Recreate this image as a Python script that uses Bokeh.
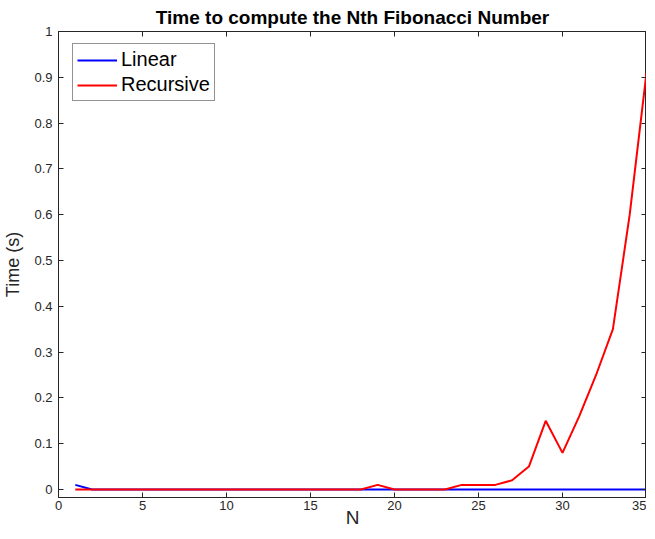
from bokeh.plotting import figure
from bokeh.models import LinearAxis, Range1d, CustomJSTickFormatter, FixedTicker, Legend, LegendItem
from bokeh.embed import file_html
from bokeh.resources import INLINE

N = [1, 2, 3, 4, 5, 6, 7, 8, 9, 10, 11, 12, 13, 14, 15, 16, 17, 18,
     19, 20, 21, 22, 23, 24, 25, 26, 27, 28, 29, 30, 31, 32, 33, 34, 35]
linear_time = [0.01, 0, 0, 0, 0, 0, 0, 0, 0, 0, 0, 0, 0, 0, 0, 0, 0, 0,
               0, 0, 0, 0, 0, 0, 0, 0, 0, 0, 0, 0, 0, 0, 0, 0, 0]
recursive_time = [0, 0, 0, 0, 0, 0, 0, 0, 0, 0, 0, 0, 0, 0, 0, 0, 0, 0,
                  0.01, 0, 0, 0, 0, 0.01, 0.01, 0.01, 0.02, 0.05, 0.15, 0.08,
                  0.16, 0.25, 0.35, 0.60, 0.91]
x_ticks = [0, 5, 10, 15, 20, 25, 30, 35]
y_ticks = [0, 0.1, 0.2, 0.3, 0.4, 0.5, 0.6, 0.7, 0.8, 0.9, 1]

FONT = "Liberation Sans"
AX = "#262626"

p = figure(frame_width=588, frame_height=466, output_backend="svg", toolbar_location=None,
           x_range=Range1d(0, 35), y_range=Range1d(-0.0175, 1),
           title="Time to compute the Nth Fibonacci Number",
           min_border_left=0, min_border_right=0, min_border_top=0, min_border_bottom=0)
p.background_fill_color = "white"
p.border_fill_color = "white"
p.outline_line_color = AX
p.outline_line_width = 1
p.xgrid.visible = False
p.ygrid.visible = False

p.title.text_font = FONT
p.title.text_font_size = "19px"
p.title.text_font_style = "bold"
p.title.align = "center"
p.title.text_color = "black"
p.title.standoff = 8

def style_axis(ax):
    ax.axis_line_color = AX
    ax.major_tick_line_color = AX
    ax.major_tick_in = 5
    ax.major_tick_out = 0
    ax.minor_tick_line_color = None
    ax.major_label_text_font = FONT
    ax.major_label_text_font_size = "13px"
    ax.major_label_text_color = AX
    ax.axis_label_text_font = FONT
    ax.axis_label_text_font_size = "18px"
    ax.axis_label_text_font_style = "normal"
    ax.axis_label_text_color = AX

xa = p.xaxis[0]
style_axis(xa)
xa.ticker = FixedTicker(ticks=x_ticks)
xa.axis_label = "N"
xa.axis_label_text_font_size = "19px"
xa.major_label_standoff = 3
xa.axis_label_standoff = -6

ya = p.yaxis[0]
style_axis(ya)
ya.ticker = FixedTicker(ticks=y_ticks)
ya.axis_label = "Time (s)"
ya.major_label_standoff = 6
ya.axis_label_standoff = 8

blank = CustomJSTickFormatter(code="return ''")
top = LinearAxis(ticker=FixedTicker(ticks=x_ticks), formatter=blank)
style_axis(top)
top.major_label_standoff = 0
right = LinearAxis(ticker=FixedTicker(ticks=y_ticks), formatter=blank)
style_axis(right)
right.major_label_standoff = 0
p.add_layout(top, "above")
p.add_layout(right, "right")

r_lin = p.line(N, linear_time, line_color="#0000ff", line_width=2)
r_rec = p.line(N, recursive_time, line_color="#ff0000", line_width=2)

legend = Legend(items=[LegendItem(label="Linear", renderers=[r_lin]),
                       LegendItem(label="Recursive", renderers=[r_rec])],
                location=(14, 396))
legend.border_line_color = AX
legend.border_line_width = 1
legend.label_text_font = FONT
legend.label_text_font_size = "20px"
legend.label_text_color = "black"
legend.glyph_width = 40
legend.glyph_height = 20
legend.label_height = 20
legend.spacing = 2
legend.padding = 4
legend.margin = 0
legend.label_standoff = 4
p.add_layout(legend, "center")

open("out.html", "w").write(file_html(p, INLINE))
